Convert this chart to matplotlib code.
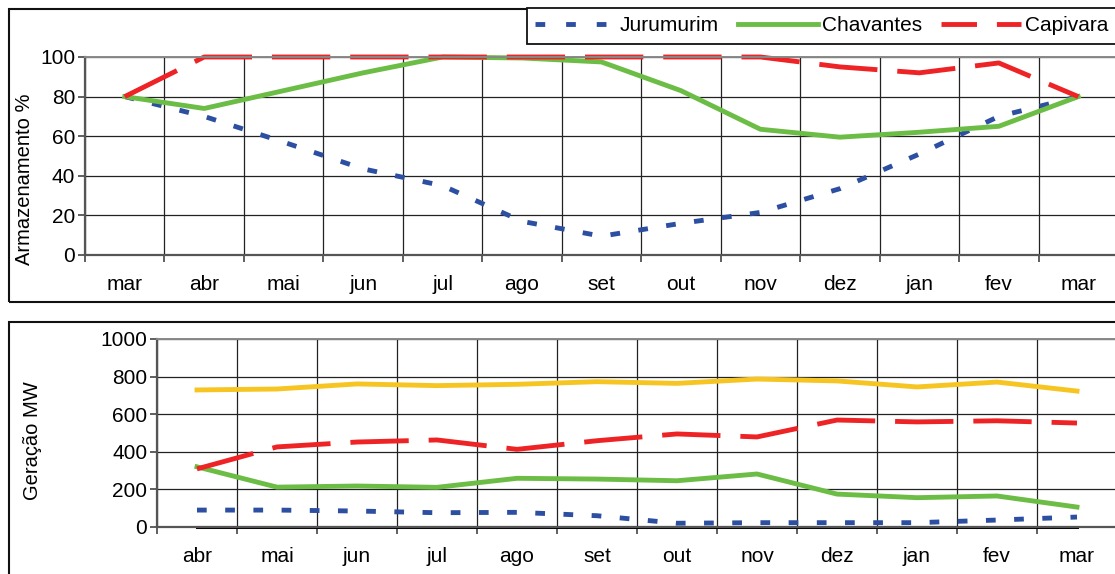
import matplotlib
matplotlib.use("Agg")
import matplotlib.pyplot as plt
from matplotlib.patches import Rectangle

plt.rcParams["font.family"] = ["Liberation Sans", "DejaVu Sans"]

# Armazenamento (%) - mar a mar
meses_arm = ["mar", "abr", "mai", "jun", "jul", "ago", "set",
             "out", "nov", "dez", "jan", "fev", "mar"]
jurumirim_arm = [80, 70, 57, 43.5, 35, 17, 9.5, 16, 21.5, 33.5, 51, 70, 80]
chavantes_arm = [80, 74, 83, 92, 100, 99.5, 97.5, 83, 63.5, 59.5, 62, 65, 80]
capivara_arm = [80, 100, 100, 100, 100, 100, 100, 100, 100, 95, 92, 97, 80]

# Geração (MW) - abr a mar
meses_ger = ["abr", "mai", "jun", "jul", "ago", "set",
             "out", "nov", "dez", "jan", "fev", "mar"]
total_ger = [729, 734, 761, 752, 759, 773, 764, 787, 777, 745, 771, 723]
capivara_ger = [309, 426, 452, 463, 413, 459, 495, 479, 569, 559, 565, 553]
chavantes_ger = [320, 212, 218, 211, 259, 255, 246, 282, 175, 156, 165, 106]
jurumirim_ger = [90, 90, 85, 76, 78, 60, 20, 23, 23, 23, 37, 53]
zero_ger = [0] * 12

AZUL = "#2D4FA2"
VERDE = "#6CBD45"
VERMELHO = "#EE2326"
AMARELO = "#F6C522"
LW = 3.5
W, H = 1115, 574

fig = plt.figure(figsize=(W / 100, H / 100), dpi=100)


def px_axes(left, top, right, bottom):
    return fig.add_axes([left / W, 1 - bottom / H, (right - left) / W, (bottom - top) / H])


def estilo(ax, labels, ymax, ystep):
    n = len(labels)
    ax.set_xlim(0, n)
    ax.set_ylim(0, ymax)
    ax.set_xticks(range(n + 1))
    ax.set_xticklabels([])
    ax.set_xticks([i + 0.5 for i in range(n)], minor=True)
    ax.set_xticklabels(labels, minor=True, fontsize=15)
    ax.set_yticks(range(0, ymax + 1, ystep))
    ax.tick_params(axis="x", which="major", direction="out", length=5, width=1.2, color="#444444")
    ax.tick_params(axis="x", which="minor", length=0, pad=14.5)
    ax.tick_params(axis="y", direction="out", length=5, width=1.2, color="#444444",
                   pad=2, labelsize=15)
    ax.grid(True, which="major", color="#222222", lw=0.9)
    ax.set_axisbelow(True)
    for side in ["left", "bottom"]:
        ax.spines[side].set_color("#555555")
        ax.spines[side].set_linewidth(1.6)
    ax.spines["top"].set_color("#888888")
    ax.spines["top"].set_linewidth(1.4)
    ax.spines["right"].set_visible(False)


# painel superior: armazenamento
ax1 = px_axes(85, 57, 1118, 255)
x1 = [i + 0.5 for i in range(len(meses_arm))]
ax1.plot(x1, jurumirim_arm, color=AZUL, lw=LW, dashes=(2.0, 3.8), label="Jurumurim")
ax1.plot(x1, chavantes_arm, color=VERDE, lw=LW, label="Chavantes")
ax1.plot(x1, capivara_arm, color=VERMELHO, lw=LW, dashes=(12, 4.1), label="Capivara")
estilo(ax1, meses_arm, 100, 20)
for ln in ax1.lines:
    ln.set_clip_on(False)

# painel inferior: geração
ax2 = px_axes(157, 339, 1117, 527)
x2 = [i + 0.5 for i in range(len(meses_ger))]
ax2.plot(x2, zero_ger, color="black", lw=2.2, zorder=2)
ax2.plot(x2, jurumirim_ger, color=AZUL, lw=LW, dashes=(2.0, 3.8))
ax2.plot(x2, chavantes_ger, color=VERDE, lw=LW)
ax2.plot(x2, capivara_ger, color=VERMELHO, lw=LW, dashes=(12, 4.1))
ax2.plot(x2, total_ger, color=AMARELO, lw=LW)
estilo(ax2, meses_ger, 1000, 200)
for ln in ax2.lines:
    ln.set_clip_on(False)

fig.text(25 / W, 1 - 179 / H, "Armazenamento %", rotation=90, ha="center", va="center",
         fontsize=14.5)
fig.text(33 / W, 1 - 441 / H, "Geração MW", rotation=90, ha="center", va="center",
         fontsize=14.5)

# molduras dos dois gráficos
for top, bottom in [(9, 302), (322, 590)]:
    fig.add_artist(Rectangle((9 / W, 1 - bottom / H), (1130 - 9) / W, (bottom - top) / H,
                             transform=fig.transFigure, fill=False, ec="#111111", lw=1.5))

leg = fig.legend(handles=ax1.lines, loc="upper left", ncol=3,
                 bbox_to_anchor=(527 / W, 1 - 8 / H), bbox_transform=fig.transFigure,
                 borderaxespad=0, fontsize=15, handlelength=3.85, handletextpad=0.2,
                 columnspacing=0.9, frameon=True, fancybox=False, framealpha=1,
                 edgecolor="#111111", borderpad=0.4)
leg.get_frame().set_linewidth(1.3)
# padrão de traços das amostras da legenda
leg.legend_handles[0].set_linestyle((0, (2.0, 4.3)))
leg.legend_handles[2].set_linestyle((4.7, (12, 4.1)))

fig.savefig("out.png", dpi=100)
